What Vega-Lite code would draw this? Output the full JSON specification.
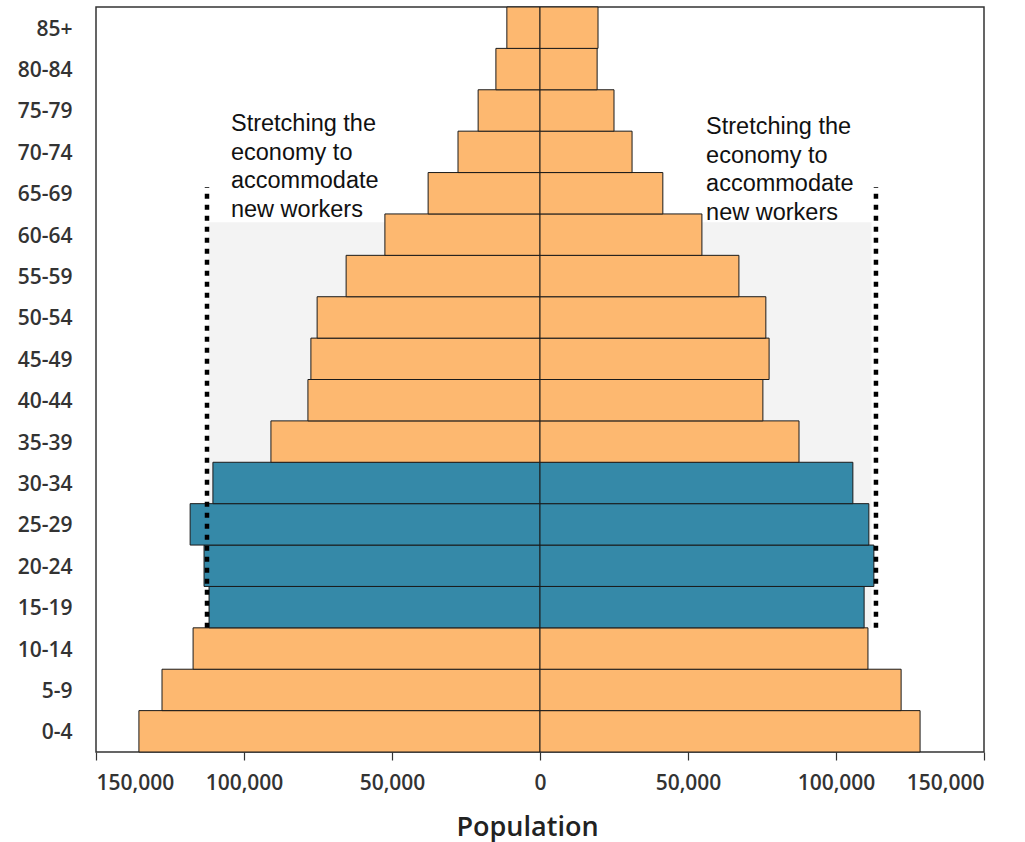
{
  "$schema": "https://vega.github.io/schema/vega-lite/v6.json",
  "width": 888,
  "height": 745,
  "autosize": {"type": "none"},
  "padding": {"left": 96, "top": 7, "right": 41, "bottom": 90},
  "background": "white",
  "config": {
    "view": {"stroke": "#333", "strokeWidth": 1.5},
    "axis": {"labelFont": "Open Sans", "titleFont": "Open Sans"}
  },
  "datasets": {
    "pop": [
      {"age": "0-4", "sex": "Male", "value": -135500, "group": "other"},
      {"age": "0-4", "sex": "Female", "value": 128400, "group": "other"},
      {"age": "5-9", "sex": "Male", "value": -127700, "group": "other"},
      {"age": "5-9", "sex": "Female", "value": 122000, "group": "other"},
      {"age": "10-14", "sex": "Male", "value": -117200, "group": "other"},
      {"age": "10-14", "sex": "Female", "value": 110800, "group": "other"},
      {"age": "15-19", "sex": "Male", "value": -111800, "group": "work"},
      {"age": "15-19", "sex": "Female", "value": 109500, "group": "work"},
      {"age": "20-24", "sex": "Male", "value": -113500, "group": "work"},
      {"age": "20-24", "sex": "Female", "value": 112800, "group": "work"},
      {"age": "25-29", "sex": "Male", "value": -118200, "group": "work"},
      {"age": "25-29", "sex": "Female", "value": 111100, "group": "work"},
      {"age": "30-34", "sex": "Male", "value": -110500, "group": "work"},
      {"age": "30-34", "sex": "Female", "value": 105700, "group": "work"},
      {"age": "35-39", "sex": "Male", "value": -90900, "group": "other"},
      {"age": "35-39", "sex": "Female", "value": 87500, "group": "other"},
      {"age": "40-44", "sex": "Male", "value": -78400, "group": "other"},
      {"age": "40-44", "sex": "Female", "value": 75300, "group": "other"},
      {"age": "45-49", "sex": "Male", "value": -77400, "group": "other"},
      {"age": "45-49", "sex": "Female", "value": 77400, "group": "other"},
      {"age": "50-54", "sex": "Male", "value": -75300, "group": "other"},
      {"age": "50-54", "sex": "Female", "value": 76300, "group": "other"},
      {"age": "55-59", "sex": "Male", "value": -65500, "group": "other"},
      {"age": "55-59", "sex": "Female", "value": 67200, "group": "other"},
      {"age": "60-64", "sex": "Male", "value": -52400, "group": "other"},
      {"age": "60-64", "sex": "Female", "value": 54700, "group": "other"},
      {"age": "65-69", "sex": "Male", "value": -37800, "group": "other"},
      {"age": "65-69", "sex": "Female", "value": 41500, "group": "other"},
      {"age": "70-74", "sex": "Male", "value": -27700, "group": "other"},
      {"age": "70-74", "sex": "Female", "value": 31100, "group": "other"},
      {"age": "75-79", "sex": "Male", "value": -20900, "group": "other"},
      {"age": "75-79", "sex": "Female", "value": 25000, "group": "other"},
      {"age": "80-84", "sex": "Male", "value": -14900, "group": "other"},
      {"age": "80-84", "sex": "Female", "value": 19300, "group": "other"},
      {"age": "85+", "sex": "Male", "value": -11200, "group": "other"},
      {"age": "85+", "sex": "Female", "value": 19600, "group": "other"}
    ],
    "shade": [
      {"x1": -112000, "x2": 112000, "y1": 3, "y2": 12.8}
    ],
    "rules": [
      {"x": -112500, "y1": 3, "y2": 13.65},
      {"x": 113500, "y1": 3, "y2": 13.65}
    ],
    "notes": [
      {"x": -104400, "y": 15.46, "text": "Stretching the\neconomy to\naccommodate\nnew workers"},
      {"x": 56100, "y": 15.39, "text": "Stretching the\neconomy to\naccommodate\nnew workers"}
    ]
  },
  "layer": [
    {
      "data": {"name": "shade"},
      "mark": {"type": "rect", "color": "#f3f3f3"},
      "encoding": {
        "x": {"field": "x1", "type": "quantitative", "scale": {"domain": [-150000, 150000]}},
        "x2": {"field": "x2"},
        "y": {"field": "y1", "type": "quantitative", "scale": {"domain": [0, 18], "nice": false, "zero": false}, "axis": null},
        "y2": {"field": "y2"}
      }
    },
    {
      "data": {"name": "pop"},
      "mark": {"type": "bar", "stroke": "#1a1a1a", "strokeWidth": 1},
      "encoding": {
        "x": {
          "field": "value", "type": "quantitative",
          "scale": {"domain": [-150000, 150000], "nice": false},
          "axis": {
            "values": [-150000, -100000, -50000, 0, 50000, 100000, 150000],
            "labelExpr": "format(abs(datum.value), ',')",
            "grid": false, "domain": false,
            "tickSize": 8, "tickColor": "#333", "tickWidth": 1.2,
            "labelFontSize": 21, "labelFontWeight": 600, "labelColor": "#333", "labelPadding": 12,
            "title": "Population", "titleFontSize": 27, "titleFontWeight": 600, "titleColor": "#222", "titlePadding": 21, "titleX": 431
          }
        },
        "y": {
          "field": "age", "type": "nominal",
          "sort": ["85+", "80-84", "75-79", "70-74", "65-69", "60-64", "55-59", "50-54", "45-49", "40-44", "35-39", "30-34", "25-29", "20-24", "15-19", "10-14", "5-9", "0-4"],
          "scale": {"paddingInner": 0, "paddingOuter": 0},
          "axis": {
            "title": null, "ticks": false, "domain": false,
            "labelFontSize": 21, "labelFontWeight": 600, "labelColor": "#333", "labelPadding": 24, "labelOffset": 2
          }
        },
        "color": {
          "field": "group", "type": "nominal",
          "scale": {"domain": ["other", "work"], "range": ["#FDB870", "#3589A8"]},
          "legend": null
        }
      }
    },
    {
      "data": {"name": "rules"},
      "mark": {"type": "rule", "color": "black", "strokeWidth": 4.5, "strokeDash": [5, 6]},
      "encoding": {
        "x": {"field": "x", "type": "quantitative"},
        "y": {"field": "y1", "type": "quantitative", "scale": {"domain": [0, 18], "nice": false, "zero": false}, "axis": null},
        "y2": {"field": "y2"}
      }
    },
    {
      "data": {"name": "notes"},
      "mark": {"type": "text", "align": "left", "baseline": "top", "font": "Liberation Sans", "fontSize": 23.5, "lineHeight": 28.5, "color": "#111", "lineBreak": "\n"},
      "encoding": {
        "x": {"field": "x", "type": "quantitative"},
        "y": {"field": "y", "type": "quantitative", "scale": {"domain": [0, 18], "nice": false, "zero": false}, "axis": null},
        "text": {"field": "text"}
      }
    }
  ],
  "resolve": {"scale": {"y": "independent"}}
}
